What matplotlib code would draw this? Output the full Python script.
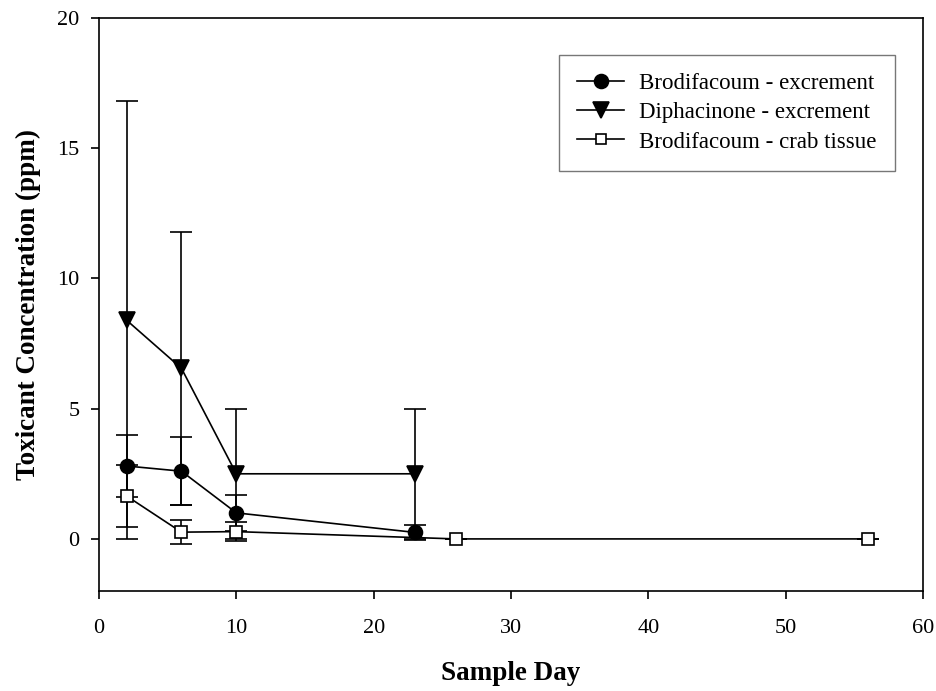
import matplotlib
matplotlib.use("Agg")
import matplotlib.pyplot as plt
from matplotlib.lines import Line2D

# Brodifacoum in excrement
brod_ex_day = [2, 6, 10, 23]
brod_ex_mean = [2.8, 2.6, 1.0, 0.25]
brod_ex_err = [1.2, 1.3, 0.7, 0.3]

# Diphacinone in excrement
diph_ex_day = [2, 6, 10, 23]
diph_ex_mean = [8.4, 6.55, 2.5, 2.5]
diph_ex_err = [8.4, 5.25, 2.5, 2.5]

# Brodifacoum in crab tissue
brod_crab_day = [2, 6, 10, 26, 56]
brod_crab_mean = [1.65, 0.26, 0.28, 0.0, 0.0]
brod_crab_err = [1.18, 0.45, 0.37, 0.0, 0.0]

x_ticks = [0, 10, 20, 30, 40, 50, 60]
y_ticks = [0, 5, 10, 15, 20]

plt.rcParams['font.family'] = ['Liberation Serif', 'DejaVu Serif']

fig = plt.figure(figsize=(9.37, 6.91), dpi=100)
ax = fig.add_axes([0.1057, 0.1447, 0.8793, 0.8293])

common = dict(color='black', lw=1.2, elinewidth=1.2, capsize=8, capthick=1.2)

series = [
    (brod_ex_day, brod_ex_mean, brod_ex_err, 'o', 10, 'black', 'Brodifacoum - excrement'),
    (diph_ex_day, diph_ex_mean, diph_ex_err, 'v', 11, 'black', 'Diphacinone - excrement'),
    (brod_crab_day, brod_crab_mean, brod_crab_err, 's', 9, 'white', 'Brodifacoum - crab tissue'),
]

handles = []
for i, (xd, yd, ed, mk, ms, fc, lab) in enumerate(series):
    ax.errorbar(xd, yd, yerr=ed, marker=mk, ms=ms, mfc=fc, mec='black', mew=1.2,
                zorder=3 + i, **common)
    handles.append(Line2D([], [], color='black', lw=1.2, marker=mk,
                          ms=ms if mk != 's' else 7, mfc=fc, mec='black', mew=1.2,
                          label=lab))

ax.set_xlim(0, 60)
ax.set_ylim(-2, 20)
ax.set_xticks(x_ticks)
ax.set_yticks(y_ticks)
ax.tick_params(direction='out', length=6, width=1.2, labelsize=16)
ax.tick_params(axis='x', pad=14)
ax.tick_params(axis='y', pad=8)
for s in ax.spines.values():
    s.set_linewidth(1.2)

ax.set_xlabel('Sample Day', fontsize=19.5, fontweight='bold', labelpad=17)
ax.set_ylabel('Toxicant Concentration (ppm)', fontsize=19.5, fontweight='bold', labelpad=12)

leg = ax.legend(handles=handles, loc='upper right',
                bbox_to_anchor=(895 / 937, 1 - 55 / 691), bbox_transform=fig.transFigure,
                fontsize=16.5, frameon=True, fancybox=False, edgecolor='#555555',
                handlelength=2.05, borderpad=0.8, labelspacing=0.35, handletextpad=0.65,
                borderaxespad=0)
leg.get_frame().set_linewidth(1.0)

fig.savefig('out.png', dpi=100)
